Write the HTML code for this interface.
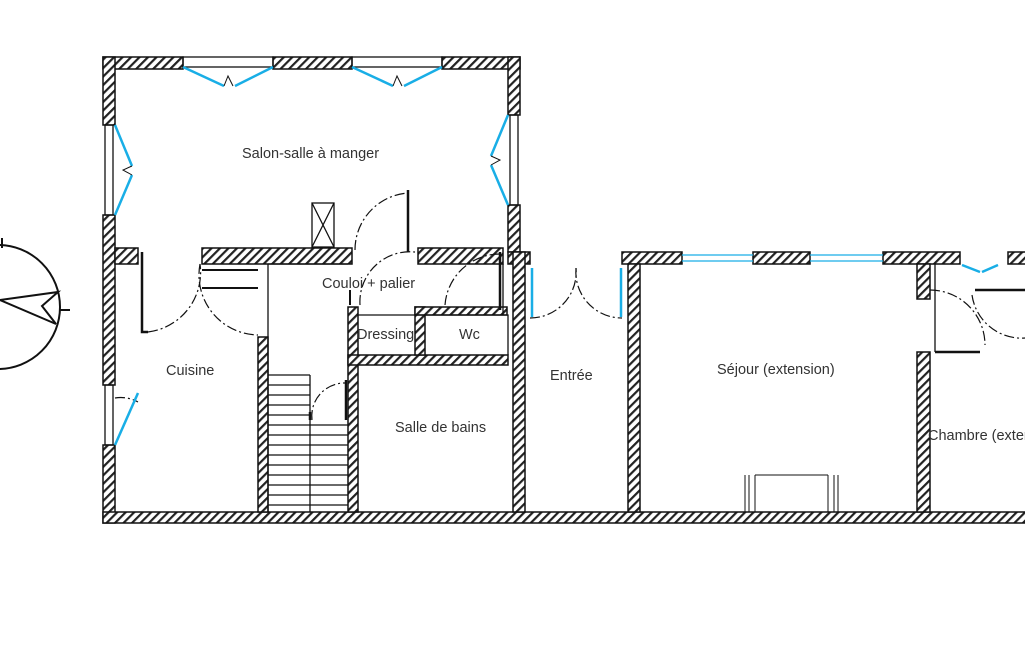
<!DOCTYPE html>
<html><head><meta charset="utf-8"><style>
html,body{margin:0;padding:0;background:#fff;width:1025px;height:650px;overflow:hidden}
text{font-family:"Liberation Sans",sans-serif;font-size:14.5px;fill:#333}
</style></head><body>
<svg width="1025" height="650" viewBox="0 0 1025 650">
<defs>
<pattern id="h" width="6" height="6" patternUnits="userSpaceOnUse" patternTransform="rotate(45)">
<rect width="6" height="6" fill="#fff"/><rect width="2.2" height="6" fill="#222"/></pattern>
</defs>
<g fill="url(#h)" stroke="#111" stroke-width="1.5">
<rect x="103" y="57" width="80" height="12"/>
<rect x="273" y="57" width="79" height="12"/>
<rect x="442" y="57" width="78" height="12"/>
<rect x="103" y="57" width="12" height="68"/>
<rect x="103" y="215" width="12" height="170"/>
<rect x="103" y="445" width="12" height="78"/>
<rect x="508" y="57" width="12" height="58"/>
<rect x="508" y="205" width="12" height="47"/>
<rect x="115" y="248" width="23" height="16"/>
<rect x="202" y="248" width="150" height="16"/>
<rect x="418" y="248" width="85" height="16"/>
<rect x="508" y="252" width="22" height="12"/>
<rect x="622" y="252" width="60" height="12"/>
<rect x="753" y="252" width="57" height="12"/>
<rect x="883" y="252" width="77" height="12"/>
<rect x="1008" y="252" width="20" height="12"/>
<rect x="103" y="512" width="925" height="11"/>
<rect x="258" y="337" width="10" height="175"/>
<rect x="348" y="307" width="10" height="205"/>
<rect x="348" y="355" width="160" height="10"/>
<rect x="415" y="307" width="10" height="48"/>
<rect x="415" y="307" width="92" height="8"/>
<rect x="513" y="252" width="12" height="260"/>
<rect x="628" y="264" width="12" height="248"/>
<rect x="917" y="264" width="13" height="35"/>
<rect x="917" y="352" width="13" height="160"/>
</g>
<g fill="none" stroke="#111" stroke-width="1.3">
<rect x="183" y="57" width="90" height="10"/>
<rect x="352" y="57" width="90" height="10"/>
<rect x="105" y="125" width="8" height="90"/>
<rect x="510" y="115" width="8" height="90"/>
<rect x="105" y="385" width="8" height="60"/>
<rect x="312" y="203" width="22" height="44"/>
<path d="M312 203L334 247M334 203L312 247"/>
<path d="M268 264V512M268 264H348M358 315H508V355M425 315H508M503 264V315"/>
<path d="M268 375H310M268 385H310M268 395H310M268 405H310M268 415H310M268 425H348M268 435H348M268 445H348M268 455H348M268 465H348M268 475H348M268 485H348M268 495H348M268 505H348M310 375V512"/>
<path d="M310 420V412M346 380V420" stroke-width="2.5"/>
<path d="M142 252V332H148" stroke-width="2.5"/>
<path d="M202 270H258M202 288H258" stroke-width="2"/>
<path d="M408 190V252" stroke-width="2.5"/>
<path d="M350 290V305" stroke-width="2"/>
<path d="M500 252V310" stroke-width="2.5"/>
<path d="M975 290H1025M935 352H980" stroke-width="2.5"/>
<path d="M935 264V352"/>
</g>
<g fill="none" stroke="#111" stroke-width="1.2" stroke-dasharray="10,3,2,3">
<path d="M148 332A60 60 0 0 0 200 264"/>
<path d="M200 264A60 60 0 0 0 258 335"/>
<path d="M355 250A57 57 0 0 1 408 193"/>
<path d="M360 305A50 50 0 0 1 415 252"/>
<path d="M445 305A55 55 0 0 1 500 254"/>
<path d="M312 420A33 33 0 0 1 346 383"/>
<path d="M530 318A46 46 0 0 0 576 268"/>
<path d="M576 268A46 46 0 0 0 622 318"/>
<path d="M930 290A55 55 0 0 1 985 345"/>
<path d="M972 295A50 50 0 0 0 1025 338"/>
<path d="M115 398A35 35 0 0 1 138 402"/>
</g>
<g fill="none" stroke="#19aee6" stroke-width="2.5">
<path d="M183 67L224 86M273 67L235 86"/>
<path d="M352 67L393 86M442 67L404 86"/>
<path d="M115 125L132 166M115 215L132 175"/>
<path d="M508 115L491 156M508 205L491 165"/>
<path d="M115 445L138 393"/>
<path d="M532 268V317M621 268V317"/>
<path d="M962 265L980 272M998 265L982 272"/>
</g>
<g stroke="#19aee6" stroke-width="1.3">
<path d="M682 255H753M682 261H753M810 255H883M810 261H883"/>
</g>
<g fill="none" stroke="#111" stroke-width="1">
<path d="M224 86L228 76L233 86M393 86L397 76L402 86M132 166L123 170L132 175M491 156L500 160L491 165"/>
<path d="M745 475V512M749 475V512M755 475V512M828 475V512M834 475V512M838 475V512M755 475H828"/>
</g>
<g fill="none" stroke="#111" stroke-width="2">
<circle cx="-2" cy="307" r="62"/>
<path d="M2 238V248M60 310H70M0 300L58 292L42 306L56 324L0 300"/>
</g>
<text x="242" y="158">Salon-salle à manger</text>
<text x="322" y="288">Couloi + palier</text>
<text x="357" y="339">Dressing</text>
<text x="459" y="339">Wc</text>
<text x="166" y="375">Cuisine</text>
<text x="395" y="432">Salle de bains</text>
<text x="550" y="380">Entrée</text>
<text x="717" y="374">Séjour (extension)</text>
<text x="928" y="440">Chambre (extension)</text>
</svg>
</body></html>
